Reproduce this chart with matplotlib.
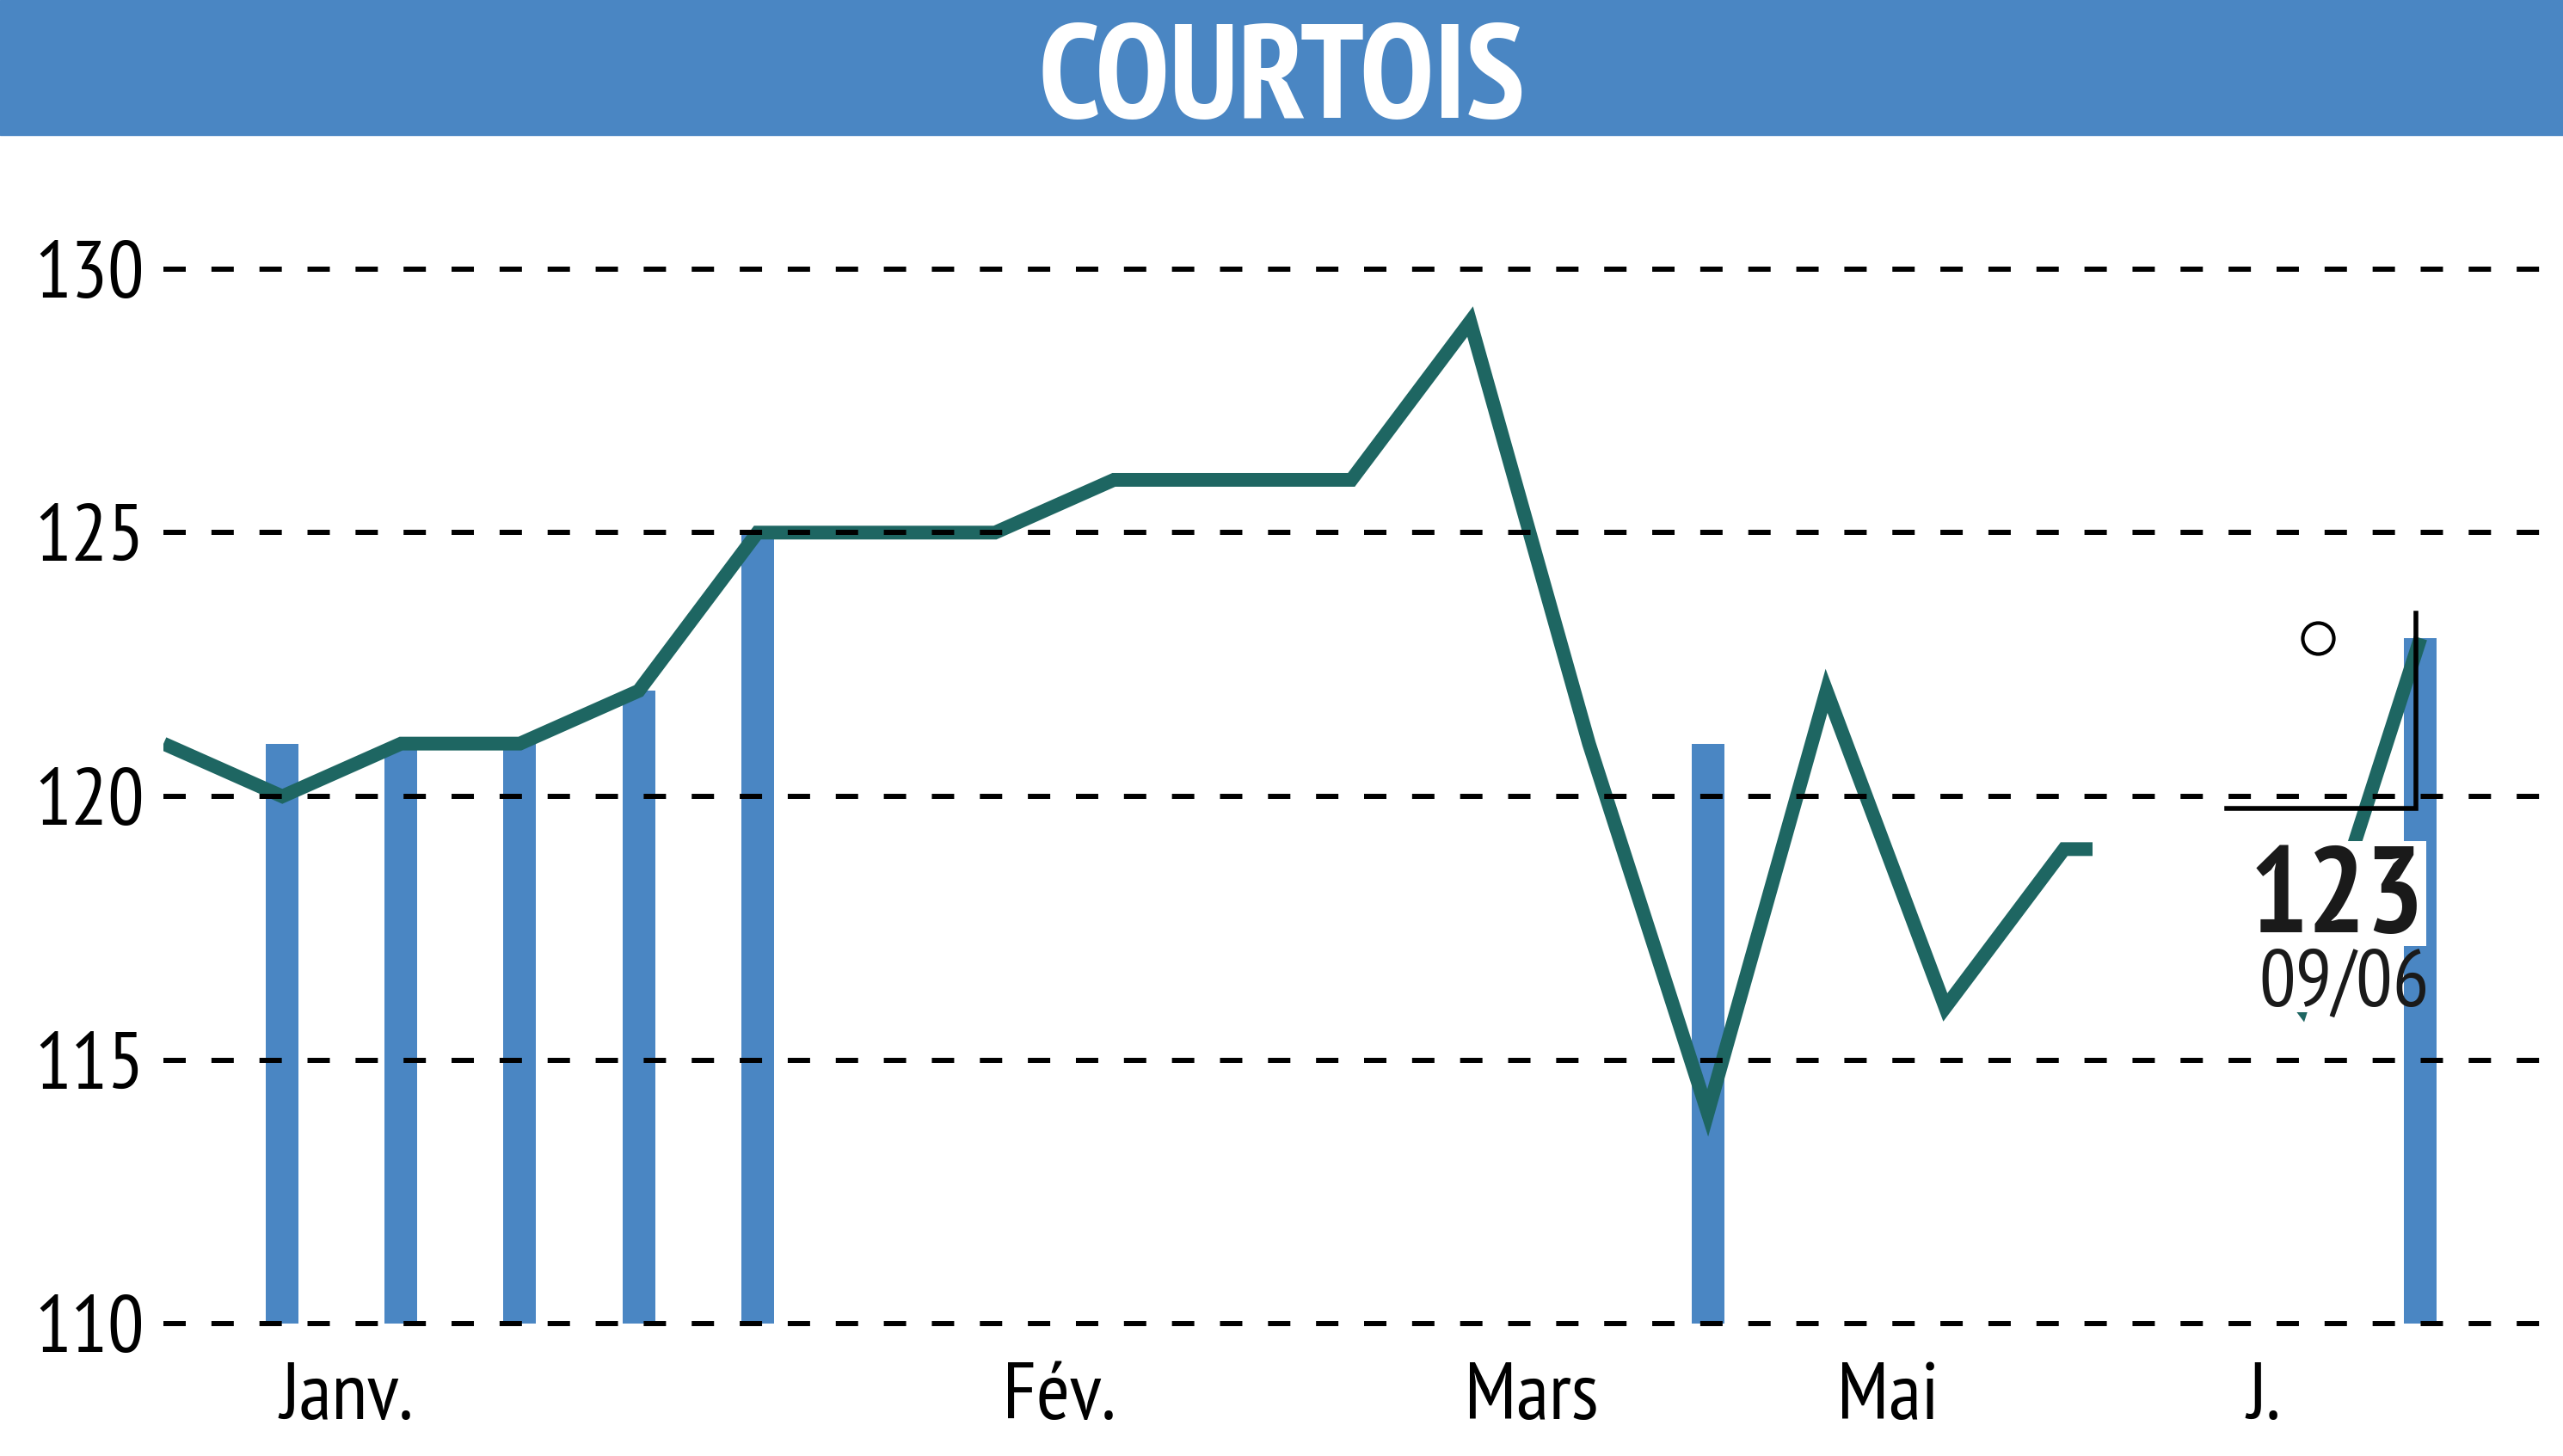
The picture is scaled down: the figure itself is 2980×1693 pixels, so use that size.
import matplotlib
matplotlib.use("Agg")
import matplotlib.pyplot as plt
from matplotlib.patches import Rectangle

plt.rcParams['font.family'] = ['PT Sans Narrow', 'Roboto Condensed',
                               'Archivo Narrow', 'DejaVu Sans']

# closing prices, one point per session
prices = [121, 120, 121, 121, 122, 125, 125, 125, 126, 126, 126, 129,
          121, 114, 122, 116, 119, 119, 116, 123]
# sessions with a volume bar, tops drawn on the price scale
vol_idx = [1, 2, 3, 4, 5, 13, 19]
vol_top = [121, 121, 121, 122, 125, 121, 123]

month_pos = [1.54, 7.54, 11.52, 14.52, 17.68]
month_lab = ["Janv.", "Fév.", "Mars", "Mai", "J."]
yticks = [110, 115, 120, 125, 130]

title = "COURTOIS"
last_val = "123"
last_date = "09/06"

blue = "#4a86c3"
teal = "#1e6662"

fig = plt.figure(figsize=(29.8, 16.93), dpi=100)

# title band
fig.add_artist(Rectangle((0, 0.907), 1, 0.093, transform=fig.transFigure,
                         color=blue, zorder=0))
fig.text(0.5, 0.919, title, color="white", fontsize=112, fontweight="bold",
         ha="center", va="baseline")

ax = fig.add_axes([0.0638, 0.0183, 0.9362, 0.8695])
ax.set_xlim(0, 20.2)
ax.set_ylim(108, 132)

ax.bar(vol_idx, [t - 110 for t in vol_top], bottom=110, width=0.275,
       color=blue, zorder=1)
ax.plot(range(len(prices)), prices, color=teal, lw=11.5, zorder=2,
        solid_joinstyle="miter", solid_capstyle="butt")

# white block behind the last value label
ax.add_patch(Rectangle((16.24, 115.9), 18.41 - 16.24, 119.15 - 115.9,
                       color="white", zorder=2.2, lw=0))
ax.add_patch(Rectangle((18.40, 117.16), 19.05 - 18.40, 119.16 - 117.16,
                       color="white", zorder=2.2, lw=0))
ax.add_patch(Rectangle((18.40, 115.9), 18.86 - 18.40, 117.16 - 115.9,
                       color="white", zorder=2.2, lw=0))

ax.set_yticks(yticks)
ax.set_xticks([])
ax.grid(axis="y", color="black", lw=4.3, linestyle=(0, (4.35, 5.0)), zorder=2.5)
ax.set_axisbelow(False)
ax.tick_params(axis="y", length=0, labelsize=68, pad=16)
for s in ax.spines.values():
    s.set_visible(False)

for p, lab in zip(month_pos, month_lab):
    ax.text(p, 108.2, lab, fontsize=68, ha="center", va="baseline")

# last value marker
ax.plot([18.14], [123], marker="o", ms=26, mfc="white", mec="black", mew=3,
        zorder=4)
ax.plot([17.37, 18.96, 18.96], [119.77, 119.77, 123.47], color="black",
        lw=4, zorder=4, solid_joinstyle="miter")
ax.text(18.3, 117.42, last_val, fontsize=102, fontweight="bold", ha="center",
        va="baseline", color="#1a1a1a", zorder=5)
ax.text(18.36, 116.02, last_date, fontsize=68, ha="center", va="baseline",
        color="#1a1a1a", zorder=5)

fig.savefig("out.png", dpi=100)
